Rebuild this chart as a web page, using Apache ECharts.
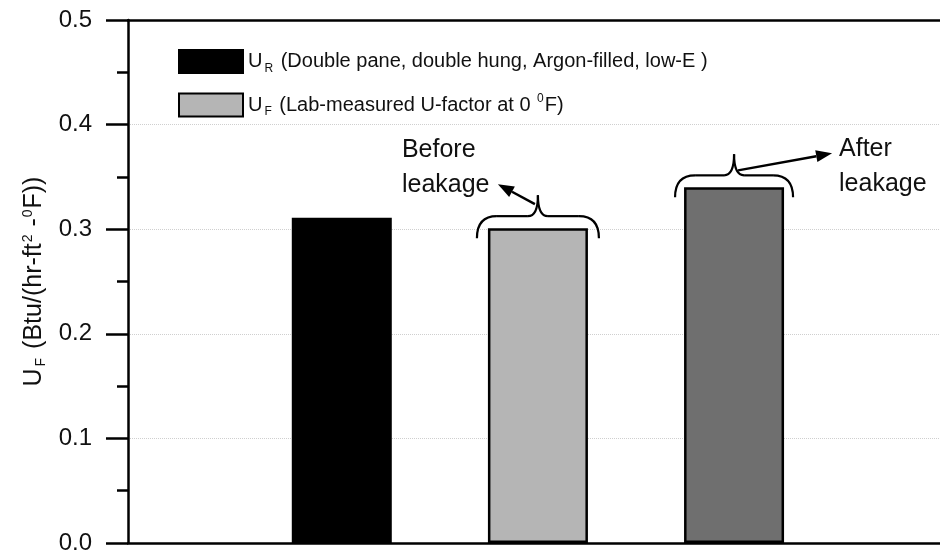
<!DOCTYPE html>
<html lang="en">
<head>
    <meta charset="UTF-8">
    <title>U-factor</title>
    <script src="https://cdn.jsdelivr.net/npm/echarts@6/dist/echarts.min.js"></script>
    <style>
        html, body { margin: 0; padding: 0; background: #fff; }
        #main { width: 940px; height: 554px; }
    </style>
</head>
<body>
    <div id="main"></div>
    <script>
        // data
        var barPos = [1, 2, 3];
        var barValues = [0.311, 0.301, 0.340];
        var barColors = ['#000000', '#b5b5b5', '#6f6f6f'];
        var legendNames = ['U_R', 'U_F'];
        var legendText = {
            'U_R': 'U{sub|R} (Double pane, double hung, Argon-filled, low-E )',
            'U_F': 'U{sub|F} (Lab-measured U-factor at 0 {sup|0}F)'
        };
        var notes = ['Before\nleakage', 'After\nleakage'];

        var font = 'Liberation Sans, Arial, sans-serif';
        function rich(size) {
            return {
                sub: { fontSize: size, fontFamily: font, color: '#111', padding: [14, 2, 0, 2] },
                sup: { fontSize: size, fontFamily: font, color: '#111', padding: [0, 1, 12, 1] }
            };
        }

        var chart = echarts.init(document.getElementById('main'));

        var option = {
            backgroundColor: '#fff',
            animation: false,
            textStyle: { fontFamily: font },
            grid: { left: 128, right: 0, top: 20, bottom: 11, outerBoundsMode: 'none', containLabel: false },
            legend: {
                data: legendNames,
                orient: 'vertical',
                left: 178,
                top: 49,
                padding: 0,
                itemWidth: 64,
                itemHeight: 23,
                itemGap: 18,
                icon: 'rect',
                formatter: function (name) { return legendText[name]; },
                textStyle: {
                    fontSize: 20, color: '#111', fontFamily: font,
                    rich: rich(12)
                }
            },
            xAxis: [{
                type: 'value',
                min: -0.09,
                max: 4.05,
                axisLine: { show: true, onZero: false, lineStyle: { color: '#000', width: 2.5 } },
                axisTick: { show: false },
                axisLabel: { show: false },
                splitLine: { show: false }
            }, {
                type: 'value',
                position: 'top',
                min: -0.09,
                max: 4.05,
                axisLine: { show: true, onZero: false, lineStyle: { color: '#000', width: 2.5 } },
                axisTick: { show: false },
                axisLabel: { show: false },
                splitLine: { show: false }
            }],
            yAxis: {
                type: 'value',
                min: 0,
                max: 0.5,
                interval: 0.1,
                name: 'U{sub|F} (Btu/(hr-ft{sup|2} -{sup|0}F))',
                nameLocation: 'middle',
                nameRotate: 90,
                nameGap: 76,
                nameTextStyle: { fontSize: 25, color: '#111', fontFamily: font, rich: rich(14) },
                axisLine: { show: true, onZero: false, lineStyle: { color: '#000', width: 2.5 } },
                axisTick: { show: true, inside: false, length: 22, lineStyle: { color: '#000', width: 2.5 } },
                minorTick: { show: true, splitNumber: 2, length: 11, lineStyle: { color: '#000', width: 2.5 } },
                axisLabel: {
                    fontSize: 24, color: '#111', margin: 36,
                    formatter: function (v) { return v.toFixed(1); }
                },
                splitLine: { show: true, lineStyle: { color: '#cfcfcf', type: 'dotted', width: 1 } }
            },
            series: [{
                name: 'U_R',
                type: 'bar',
                barWidth: 100,
                barGap: '-100%',
                itemStyle: { color: barColors[0], borderColor: '#000', borderWidth: 2 },
                data: [[barPos[0], barValues[0]]]
            }, {
                name: 'U_F',
                type: 'bar',
                barWidth: 100,
                barGap: '-100%',
                itemStyle: { color: barColors[1], borderColor: '#000', borderWidth: 2.5 },
                data: [
                    [barPos[1], barValues[1]],
                    { value: [barPos[2], barValues[2]], itemStyle: { color: barColors[2] } }
                ]
            }]
        };
        chart.setOption(option);

        // braces, arrows and notes placed from the bar tops
        var ink = { stroke: '#000', lineWidth: 2.2, fill: null };
        function curve(x1, y1, cx, cy, x2, y2) {
            return { type: 'bezierCurve', shape: { x1: x1, y1: y1, cpx1: cx, cpy1: cy, x2: x2, y2: y2 }, style: ink };
        }
        function seg(x1, y1, x2, y2) {
            return { type: 'line', shape: { x1: x1, y1: y1, x2: x2, y2: y2 }, style: ink };
        }
        function brace(cx, yt, hw) {
            var yEnd = yt + 10, yH = yt - 12, yC = yt - 33;
            return [
                curve(cx - hw, yEnd, cx - hw, yH, cx - hw + 20, yH),
                seg(cx - hw + 20, yH, cx - 10, yH),
                curve(cx - 10, yH, cx, yH, cx, yC),
                curve(cx, yC, cx, yH, cx + 10, yH),
                seg(cx + 10, yH, cx + hw - 20, yH),
                curve(cx + hw - 20, yH, cx + hw, yH, cx + hw, yEnd)
            ];
        }
        function arrow(x1, y1, x2, y2) {
            var ang = Math.atan2(y2 - y1, x2 - x1);
            var L = 16, W = 6;
            var bx = x2 - L * Math.cos(ang), by = y2 - L * Math.sin(ang);
            var px = -Math.sin(ang) * W, py = Math.cos(ang) * W;
            return [{
                type: 'line',
                shape: { x1: x1, y1: y1, x2: bx, y2: by },
                style: { stroke: '#000', lineWidth: 2.5 }
            }, {
                type: 'polygon',
                shape: { points: [[x2, y2], [bx + px, by + py], [bx - px, by - py]] },
                style: { fill: '#000' }
            }];
        }

        var p2 = chart.convertToPixel({ gridIndex: 0 }, [barPos[1], barValues[1]]);
        var p3 = chart.convertToPixel({ gridIndex: 0 }, [barPos[2], barValues[2]]);
        var g = [];
        g = g.concat(brace(p2[0], p2[1], 61));
        g = g.concat(brace(p3[0], p3[1], 59));
        g = g.concat(arrow(p2[0] - 3, p2[1] - 24, p2[0] - 40, p2[1] - 44));
        g = g.concat(arrow(p3[0] + 4, p3[1] - 17, p3[0] + 98, p3[1] - 34));
        g.push({
            type: 'text', left: p2[0] - 136, top: p2[1] - 96,
            style: { text: notes[0], fontSize: 25, fontFamily: font, fill: '#111', lineHeight: 35 }
        });
        g.push({
            type: 'text', left: p3[0] + 105, top: p3[1] - 56,
            style: { text: notes[1], fontSize: 25, fontFamily: font, fill: '#111', lineHeight: 35 }
        });
        chart.setOption({ graphic: g });
    </script>
</body>
</html>
